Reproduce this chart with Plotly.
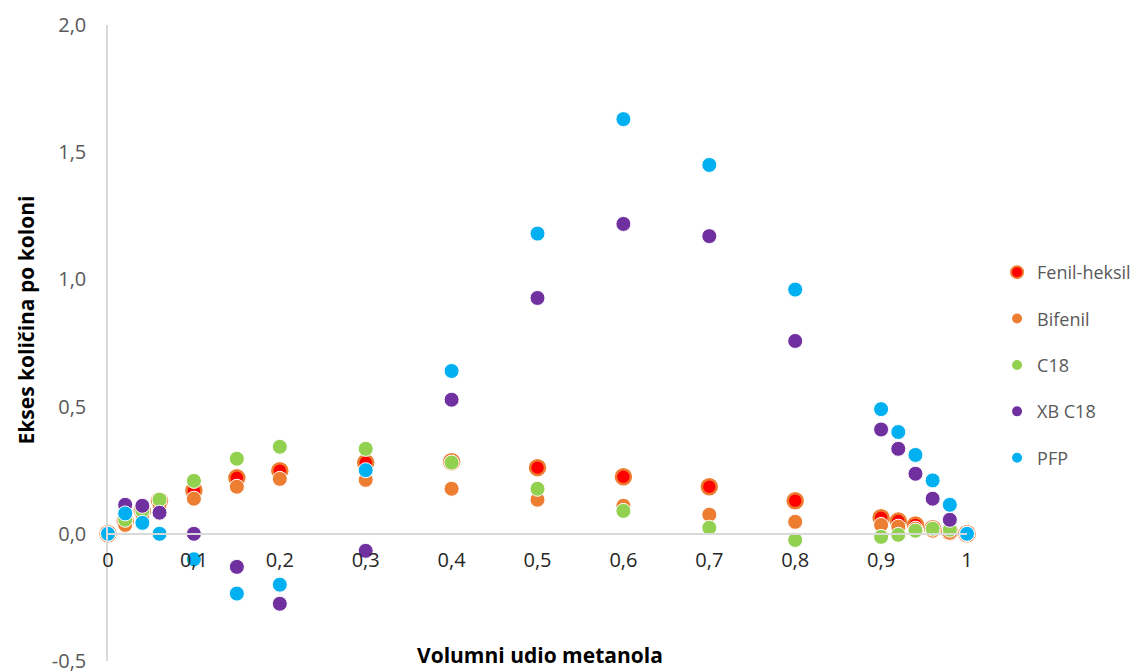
import plotly.graph_objects as go

x_vals = [0, 0.02, 0.04, 0.06, 0.1, 0.15, 0.2, 0.3, 0.4, 0.5, 0.6, 0.7, 0.8, 0.9, 0.92, 0.94, 0.96, 0.98, 1]

fenil_heksil = [0, 0.05, 0.09, 0.13, 0.17, 0.22, 0.248, 0.28, 0.283, 0.26, 0.224, 0.185, 0.13, 0.063, 0.05, 0.035, 0.02, 0.008, 0]
bifenil = [0, 0.035, 0.075, 0.114, 0.138, 0.185, 0.216, 0.212, 0.177, 0.134, 0.11, 0.075, 0.047, 0.035, 0.028, 0.02, 0.012, 0.004, 0]
c18 = [0, 0.055, 0.09, 0.134, 0.208, 0.295, 0.342, 0.334, 0.28, 0.177, 0.09, 0.024, -0.024, -0.012, -0.004, 0.012, 0.02, 0.016, 0]
xb_c18 = [0, 0.114, 0.11, 0.083, 0, -0.13, -0.275, -0.067, 0.527, 0.927, 1.218, 1.17, 0.758, 0.41, 0.334, 0.236, 0.138, 0.055, 0]
pfp = [0, 0.08, 0.043, 0, -0.1, -0.235, -0.2, 0.25, 0.64, 1.18, 1.63, 1.45, 0.96, 0.49, 0.40, 0.31, 0.21, 0.114, 0]

series_names = ["Fenil-heksil", "Bifenil", "C18", "XB C18", "PFP"]
series_values = [fenil_heksil, bifenil, c18, xb_c18, pfp]
fill_colors = ["#FF0000", "#ED7D31", "#92D050", "#7030A0", "#00B0F0"]
line_colors = ["#ED7D31", "#FFFFFF", "#FFFFFF", "#FFFFFF", "#FFFFFF"]
line_widths = [2.5, 1, 1, 1, 1]

x_tickvals = [0, 0.1, 0.2, 0.3, 0.4, 0.5, 0.6, 0.7, 0.8, 0.9, 1]
x_ticktext = ["0", "0,1", "0,2", "0,3", "0,4", "0,5", "0,6", "0,7", "0,8", "0,9", "1"]
y_tickvals = [-0.5, 0, 0.5, 1.0, 1.5, 2.0]
y_ticktext = ["-0,5", "0,0", "0,5", "1,0", "1,5", "2,0"]

fig = go.Figure()
for i, (name, vals) in enumerate(zip(series_names, series_values)):
    fig.add_trace(go.Scatter(
        x=x_vals, y=vals, mode="markers", name=name,
        legendgroup=name,
        marker=dict(size=15, color=fill_colors[i],
                    line=dict(color=line_colors[i], width=line_widths[i])),
        cliponaxis=False,
    ))

fig.update_layout(
    width=1138, height=663,
    margin=dict(l=100, r=179, t=17, b=10),
    plot_bgcolor="white", paper_bgcolor="white",
    separators=",.",
    font=dict(family="Open Sans", size=18, color="#595959"),
    xaxis=dict(
        range=[0, 1], tickvals=x_tickvals, ticktext=x_ticktext,
        showgrid=False, zeroline=False, automargin=False,
        showline=True, linecolor="#D9D9D9", linewidth=1.5,
        anchor="free", position=0.2,
        ticks="", ticklabelstandoff=8,
        tickfont=dict(size=20, color="#262626"),
    ),
    yaxis=dict(
        range=[-0.5, 2.0], tickvals=y_tickvals, ticktext=y_ticktext,
        showgrid=False, zeroline=False, automargin=False,
        showline=True, linecolor="#D9D9D9", linewidth=1.5,
        ticks="", ticklabelstandoff=16, ticklabeloverflow="allow",
        tickfont=dict(size=20, color="#595959"),
    ),
    legend=dict(
        x=1.035, y=0.64, xanchor="left", yanchor="top",
        traceorder="grouped", tracegroupgap=20,
        itemsizing="constant",
        font=dict(size=18, color="#595959"),
        bgcolor="rgba(0,0,0,0)",
    ),
    showlegend=True,
    annotations=[
        dict(text="<b>Volumni udio metanola</b>", x=0.503, y=-0.0157,
             xref="paper", yref="paper", xanchor="center", yanchor="bottom",
             showarrow=False, font=dict(size=21, color="#000000")),
        dict(text="<b>Ekses količina po koloni</b>", x=-0.095, y=0.536,
             xref="paper", yref="paper", xanchor="center", yanchor="middle",
             textangle=-90, showarrow=False, font=dict(size=21, color="#000000")),
    ],
)

fig.write_html("out.html")
